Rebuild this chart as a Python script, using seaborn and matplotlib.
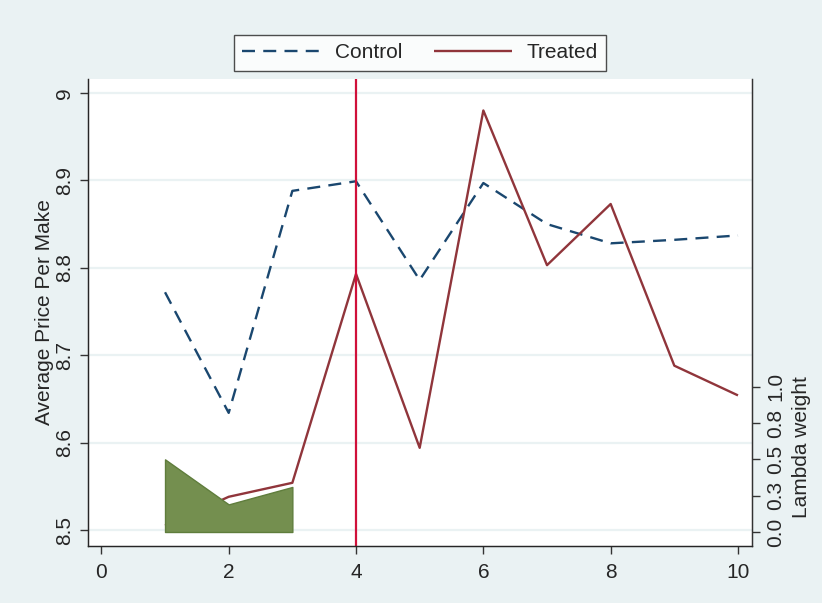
import numpy as np
import pandas as pd
import matplotlib
matplotlib.use('Agg')
import matplotlib.pyplot as plt
import seaborn as sns

# values
periods = [1, 2, 3, 4, 5, 6, 7, 8, 9, 10]
control = [8.772, 8.634, 8.888, 8.899, 8.786, 8.897, 8.850, 8.828, 8.832, 8.837]
treated = [8.505, 8.538, 8.554, 8.793, 8.594, 8.980, 8.803, 8.873, 8.688, 8.654]
weight_periods = [1, 2, 3]
lambda_weights = [0.50, 0.19, 0.31]
treat_time = 4

y_ticks = [8.5, 8.6, 8.7, 8.8, 8.9, 9.0]
y_tick_labels = ['8.5', '8.6', '8.7', '8.8', '8.9', '9']
x_ticks = [0, 2, 4, 6, 8, 10]
w_ticks = [0, 0.25, 0.5, 0.75, 1.0]
w_tick_labels = ['0.0', '0.3', '0.5', '0.8', '1.0']

bg = '#EAF2F3'
navy = '#1a476f'
maroon = '#90353b'
red = '#d0103a'
green = '#748f4f'
fs = 15

sns.set_style('white')
plt.rcParams['font.family'] = ['Liberation Sans', 'DejaVu Sans']

df = pd.DataFrame({'period': periods, 'Control': control, 'Treated': treated})

fig = plt.figure(figsize=(8.22, 6.03), dpi=100, facecolor=bg)
ax = fig.add_axes([88 / 822, 1 - 546 / 603, (752 - 88) / 822, (546 - 79) / 603])
ax.set_facecolor('white')

for y in y_ticks:
    ax.axhline(y, color=bg, lw=1.6, zorder=0)

sns.lineplot(data=df, x='period', y='Control', ax=ax, color=navy, lw=1.7,
             linestyle=(0, (5.5, 3.5)), label='Control')
sns.lineplot(data=df, x='period', y='Treated', ax=ax, color=maroon, lw=1.7,
             solid_capstyle='butt', label='Treated')
ax.axvline(treat_time, color=red, lw=1.6)

ax.set_xlim(-0.21, 10.22)
ax.set_ylim(8.4817, 9.016)
ax.set_xticks(x_ticks)
ax.set_yticks(y_ticks)
ax.set_yticklabels(y_tick_labels, rotation=90, va='center')
ax.set_xlabel('')
ax.set_ylabel('Average Price Per Make', fontsize=fs, labelpad=1)
ax.tick_params(axis='both', labelsize=fs, length=6, width=1, color='#333333',
               direction='out', left=True, bottom=True)
ax.tick_params(axis='y', pad=4)
ax.tick_params(axis='x', pad=6)

ax.spines['top'].set_visible(False)
for side in ['left', 'bottom', 'right']:
    ax.spines[side].set_color('#333333')
    ax.spines[side].set_linewidth(1)

handles, labels = ax.get_legend_handles_labels()
ax.get_legend().remove()

# lambda weights on a right-hand axis
ax2 = ax.twinx()
ax2.fill_between(weight_periods, 0, lambda_weights, color=green,
                 edgecolor='#5f7d3c', lw=1)
ax2.set_ylim(-0.0964, 3.118)
ax2.set_yticks(w_ticks)
ax2.set_yticklabels(w_tick_labels, rotation=90, va='center')
ax2.set_ylabel('Lambda weight', fontsize=fs)
ax2.yaxis.set_label_coords(1.06, 0.212)
ax2.tick_params(axis='y', labelsize=fs, length=6, width=1, color='#333333',
                direction='out', right=True, pad=4)
ax2.spines['top'].set_visible(False)
ax2.spines['right'].set_color('#333333')
ax2.grid(False)

leg = fig.legend(handles, labels, loc='center', bbox_to_anchor=(420 / 822, 1 - 53 / 603),
                 ncol=2, fontsize=fs, frameon=True, fancybox=False,
                 handlelength=3.75, handletextpad=0.67, columnspacing=1.55,
                 borderpad=0.4)
leg.get_frame().set_edgecolor('#222222')
leg.get_frame().set_linewidth(1)
leg.get_frame().set_facecolor('white')

fig.savefig('out.png', dpi=100, facecolor=bg)
